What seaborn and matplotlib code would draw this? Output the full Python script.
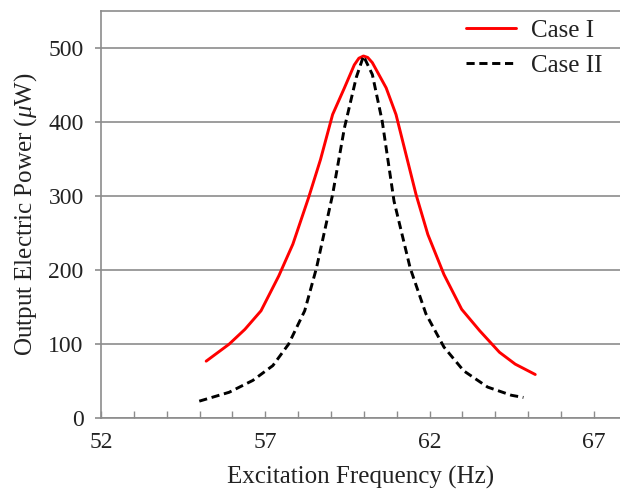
import numpy as np
import pandas as pd
import matplotlib
matplotlib.use("Agg")
import matplotlib.pyplot as plt
import seaborn as sns

# Data
case1_freq = [55.2, 55.9, 56.38, 56.87, 57.41, 57.84, 58.32, 58.68, 59.05, 59.41, 59.71, 59.85, 59.99,
              60.12, 60.26, 60.68, 60.98, 61.59, 61.95, 62.44, 62.98, 63.53, 64.13, 64.61, 65.22]
case1_power = [77, 100, 120, 145, 192, 235, 298, 349, 410, 446, 477, 486, 489,
               487, 480, 446, 410, 302, 248, 194, 147, 118, 89, 73, 59]
case2_freq = [54.99, 55.9, 56.62, 57.23, 57.71, 58.2, 58.56, 59.05, 59.41, 59.77, 59.99,
              60.26, 60.56, 60.92, 61.41, 61.89, 62.44, 63.04, 63.77, 64.49, 64.86]
case2_power = [23, 35, 51, 71, 100, 145, 203, 302, 392, 460, 489,
               464, 401, 293, 203, 141, 96, 64, 42, 31, 28]
x_ticks = [52, 57, 62, 67]
y_ticks = [0, 100, 200, 300, 400, 500]
series_names = ["Case I", "Case II"]

df1 = pd.DataFrame({"freq": case1_freq, "power": case1_power})
df2 = pd.DataFrame({"freq": case2_freq, "power": case2_power})

sns.set_style("white")
plt.rcParams["font.family"] = ["Liberation Serif", "DejaVu Serif"]
plt.rcParams["mathtext.fontset"] = "custom"
plt.rcParams["mathtext.rm"] = "Liberation Serif"
plt.rcParams["mathtext.it"] = "Liberation Serif:italic"
plt.rcParams["text.color"] = "#222222"
plt.rcParams["axes.labelcolor"] = "#222222"
plt.rcParams["xtick.labelcolor"] = "#222222"
plt.rcParams["ytick.labelcolor"] = "#222222"

fig = plt.figure(figsize=(6.2, 4.92), dpi=100)
ax = fig.add_axes([0.163, 0.150, 0.837, 0.828])

sns.lineplot(data=df1, x="freq", y="power", ax=ax, color="#ff0000", lw=2.1,
             label=series_names[0], sort=False)
sns.lineplot(data=df2, x="freq", y="power", ax=ax, color="black", lw=2.1,
             label=series_names[1], sort=False, dashes=False)
ax.lines[1].set_dashes([2.8, 1.6])
for ln in ax.lines:
    ln.set_solid_joinstyle("round")
    ln.set_dash_joinstyle("round")

ax.set_xlim(52, 67.8)
ax.set_ylim(0, 550)
ax.set_xticks(x_ticks)
ax.set_xticks(np.arange(52, 68, 1), minor=True)
ax.set_yticks(y_ticks)

ax.yaxis.grid(True, color="#8c8c8c", lw=1.2)
ax.set_axisbelow(True)
for s in ["left", "bottom", "top"]:
    ax.spines[s].set_color("#8c8c8c")
    ax.spines[s].set_linewidth(1.2)
ax.spines["right"].set_visible(False)

ax.tick_params(axis="x", which="both", bottom=True, direction="in", length=5,
               color="#8c8c8c", width=1.0)
ax.tick_params(axis="x", which="major", labelsize=17, pad=10)
ax.tick_params(axis="y", left=True, direction="out", length=4.5, width=1.2,
               color="#8c8c8c", labelsize=17, pad=8)

ax.set_xlabel("Excitation Frequency (Hz)", fontsize=18, labelpad=9)
ax.set_ylabel(r"Output Electric Power ($\mu$W)", fontsize=18, labelpad=7)

leg = ax.legend(loc="upper left", bbox_to_anchor=(0.68, 1.01), frameon=False,
                fontsize=18, handlelength=2.0, handletextpad=0.6, labelspacing=0.5,
                borderaxespad=0.1)

fig.savefig("out.png", dpi=100)
